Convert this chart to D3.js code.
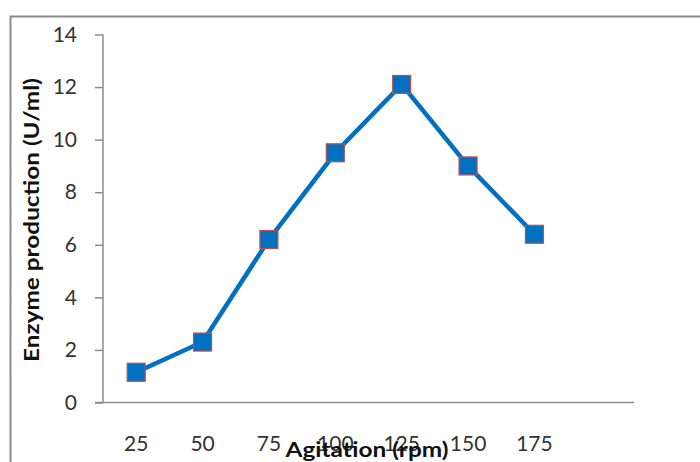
<!DOCTYPE html>
<html><head><meta charset="utf-8">
<script src="https://cdn.jsdelivr.net/npm/d3@7"></script>
<style>body{margin:0;background:#fff}svg{display:block}</style>
</head><body>
<script>
const categories = ["25","50","75","100","125","150","175"];
const enzyme = [1.15, 2.3, 6.2, 9.5, 12.1, 9.0, 6.4];
const yTicks = [0,2,4,6,8,10,12,14];

(function(){
const W = 700, H = 462;
const svg = d3.select("body").append("svg").attr("width", W).attr("height", H);

// frame
svg.append("path").attr("d","M10.5,462 V16.5 H700").attr("fill","none").attr("stroke","#8c8c8c").attr("stroke-width",2);

const mLeft = 103, mRight = 634, mTop = 34.5, mBottom = 402.5;
const slot = (mRight-mLeft)/8;
const x = d3.scaleBand().domain(categories).range([mLeft, mLeft + slot*categories.length]);
const y = d3.scaleLinear().domain([0,14]).range([mBottom, mTop]);

// y axis
const yAxis = svg.append("g").attr("transform",`translate(${mLeft},0)`)
  .call(d3.axisLeft(y).tickValues(yTicks).tickSize(8).tickPadding(18).tickFormat(d3.format("d")));
yAxis.select(".domain").attr("stroke","#8c8c8c").attr("stroke-width",1.5).attr("d",`M0,${mTop}V${mBottom}`);
yAxis.selectAll(".tick line").attr("stroke","#8c8c8c").attr("stroke-width",1.5);
yAxis.selectAll(".tick text").attr("font-family","Lato, sans-serif").attr("font-size",21).attr("fill","#333");

// x axis line
svg.append("line").attr("x1",95).attr("x2",mRight).attr("y1",mBottom).attr("y2",mBottom)
  .attr("stroke","#8c8c8c").attr("stroke-width",1.5);
// x tick labels
const xAxis = svg.append("g").attr("transform",`translate(0,${mBottom})`)
  .call(d3.axisBottom(x).tickSize(0).tickPadding(34));
xAxis.select(".domain").remove();
xAxis.selectAll(".tick text").attr("font-family","Lato, sans-serif").attr("font-size",21).attr("fill","#333");

// line
const cx = d => x(d) + x.bandwidth()/2;
const pts = categories.map((c,i)=>[c,enzyme[i]]);
svg.append("path").datum(pts)
  .attr("fill","none").attr("stroke","#0070C0").attr("stroke-width",4.5)
  .attr("d", d3.line().x(d=>cx(d[0])).y(d=>y(d[1])));
// markers
const ms = 18;
svg.selectAll("rect.m").data(pts).enter().append("rect")
  .attr("class","m").attr("x",d=>cx(d[0])-ms/2).attr("y",d=>y(d[1])-ms/2)
  .attr("width",ms).attr("height",ms).attr("fill","#0070C0").attr("stroke","#C0504D").attr("stroke-width",1.2);

// titles
svg.append("text").attr("x",367).attr("y",457).attr("text-anchor","middle")
  .attr("font-family","Lato, sans-serif").attr("font-weight","bold").attr("font-size",21).attr("fill","#111")
  .attr("textLength",163).attr("lengthAdjust","spacingAndGlyphs")
  .text("Agitation (rpm)");
svg.append("text").attr("transform","translate(39,220) rotate(-90)").attr("text-anchor","middle")
  .attr("font-family","Lato, sans-serif").attr("font-weight","bold").attr("font-size",20).attr("fill","#111")
  .attr("textLength",284).attr("lengthAdjust","spacingAndGlyphs")
  .text("Enzyme production (U/ml)");
})();
</script>
</body></html>
